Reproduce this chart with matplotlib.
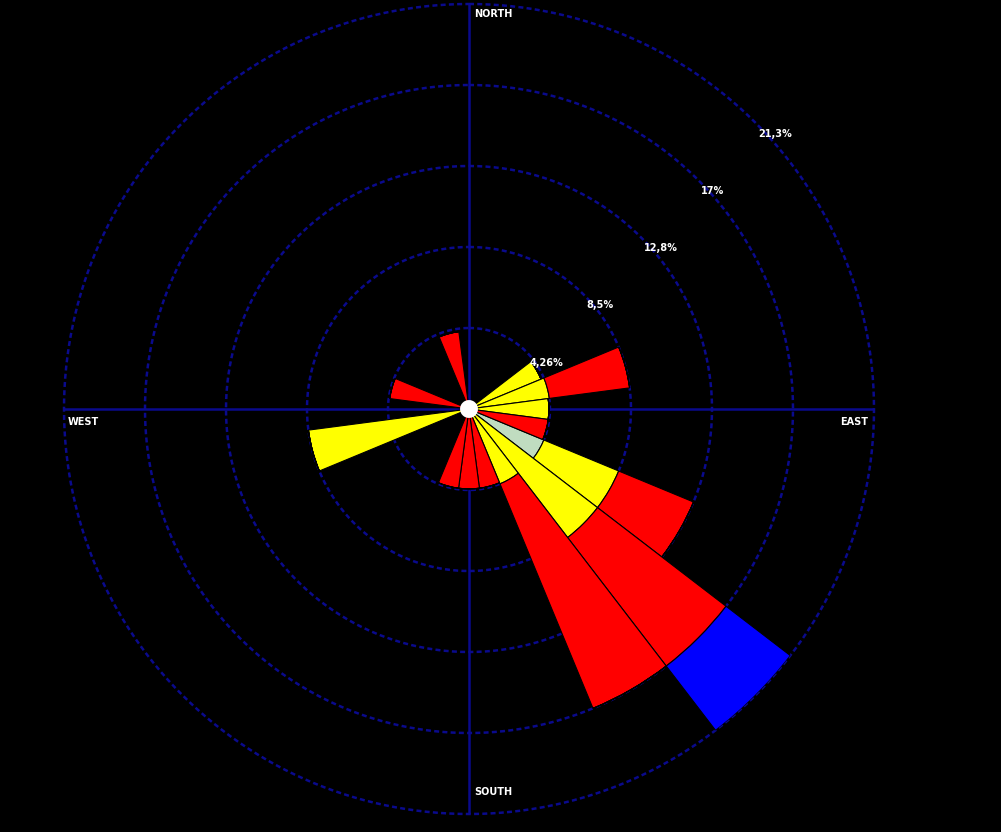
import numpy as np
import matplotlib
matplotlib.use("Agg")
import matplotlib.pyplot as plt
from matplotlib.transforms import offset_copy

# wind rose: 24 sectors of 15 degrees, stacked by speed class (values in %)
directions = [0, 15, 30, 45, 60, 75, 90, 105, 120, 135, 150, 165,
              180, 195, 210, 225, 240, 255, 270, 285, 300, 315, 330, 345]
class1 = [0, 0, 0, 0, 0, 0, 0, 0, 4.26, 0, 0, 0,
          0, 0, 0, 0, 0, 0, 0, 0, 0, 0, 0, 0]
class2 = [0, 0, 0, 0, 4.1, 4.26, 4.2, 0, 4.26, 8.52, 4.26, 0,
          0, 0, 0, 0, 0, 8.52, 0, 0, 0, 0, 0, 0]
class3 = [0, 0, 0, 0, 0, 4.26, 0, 4.2, 4.26, 8.52, 12.78, 4.2,
          4.2, 4.2, 0, 0, 0, 0, 0, 4.2, 0, 0, 0, 4.1]
class4 = [0, 0, 0, 0, 0, 0, 0, 0, 0, 4.26, 0, 0,
          0, 0, 0, 0, 0, 0, 0, 0, 0, 0, 0, 0]
class_colors = ["#C0DCC0", "#FFFF00", "#FF0000", "#0000FF"]

ring_values = [4.26, 8.52, 12.78, 17.04, 21.3]
ring_labels = ["4,26%", "8,5%", "12,8%", "17%", "21,3%"]
calm_radius = 0.47

fig = plt.figure(figsize=(10.01, 8.32), dpi=100, facecolor="black")
ax = fig.add_axes([64 / 1001, 18 / 832, 810 / 1001, 810 / 832], projection="polar")
ax.set_facecolor("black")
ax.set_theta_zero_location("N")
ax.set_theta_direction(-1)
ax.set_ylim(0, ring_values[-1])
ax.grid(False)
ax.set_xticks([])
ax.set_yticks([])
ax.spines["polar"].set_visible(False)

grid_col = "#0A0A8C"
R = ring_values[-1]
t = np.linspace(0, 2 * np.pi, 721)
for rv in ring_values:
    ax.plot(t, np.full_like(t, rv), color=grid_col, lw=1.8, ls=(0, (2, 1.3)),
            zorder=1, clip_on=False)
for a in [0, 90, 180, 270]:
    ax.plot([np.radians(a)] * 2, [0, R], color=grid_col, lw=1.8, zorder=1)

theta = np.radians(directions)
width = np.radians(15)
bottom = np.zeros(len(directions))
for vals, col in zip([class1, class2, class3, class4], class_colors):
    vals = np.array(vals)
    ax.bar(theta, vals, width=width, bottom=bottom, color=col,
           edgecolor="black", linewidth=0.8, zorder=2)
    bottom = bottom + vals

# calm circle
ax.bar(0, calm_radius, width=2 * np.pi, bottom=0, color="white",
       edgecolor="white", linewidth=0, zorder=3)

lab_tr = offset_copy(ax.transData, fig=fig, x=3, y=-11, units="dots")
for rv, lab in zip(ring_values, ring_labels):
    ax.text(np.radians(45), rv, lab, color="white", fontsize=7, fontweight="bold",
            ha="left", va="center", zorder=4, transform=lab_tr)

fig.text(474 / 1001, 1 - 14 / 832, "NORTH", color="white", fontsize=7, fontweight="bold", ha="left", va="center")
fig.text(474 / 1001, 1 - 792 / 832, "SOUTH", color="white", fontsize=7, fontweight="bold", ha="left", va="center")
fig.text(68 / 1001, 1 - 422 / 832, "WEST", color="white", fontsize=7, fontweight="bold", ha="left", va="center")
fig.text(840 / 1001, 1 - 422 / 832, "EAST", color="white", fontsize=7, fontweight="bold", ha="left", va="center")

fig.savefig("out.png", dpi=100, facecolor="black")
